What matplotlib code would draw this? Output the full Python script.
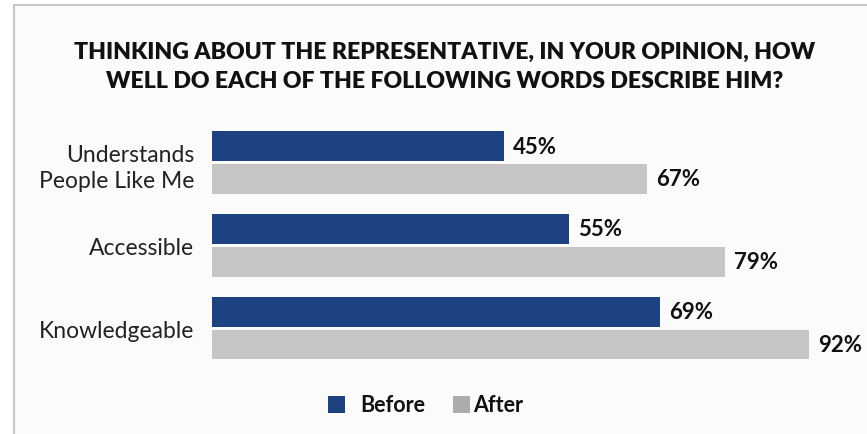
import matplotlib.pyplot as plt
from matplotlib.patches import Rectangle

plt.rcParams["font.family"] = ["Lato", "DejaVu Sans"]

categories = ["Understands\nPeople Like Me", "Accessible", "Knowledgeable"]
before = [45, 55, 69]
after = [67, 79, 92]
legend_labels = ["Before", "After"]

BLUE = "#1c4282"
GREY = "#c6c5c4"
GREY_LEG = "#acacac"
BG = "#fbfbfb"

W, H = 867, 435
fig = plt.figure(figsize=(W / 100, H / 100), dpi=100, facecolor="white")

# card background with light border (top and left visible)
fig.add_artist(Rectangle((14 / W, -0.1), 1.0, (H - 6) / H + 0.1, transform=fig.transFigure,
                         facecolor=BG, edgecolor="#c8c8c8", linewidth=1.5, zorder=0))

ax = fig.add_axes([212 / W, 1 - 370 / H, 649 / W, 250 / H])
ax.set_facecolor("none")

y = list(range(len(categories)))
h = 0.362
off = 0.199
ax.barh([v - off for v in y], before, height=h, color=BLUE)
ax.barh([v + off for v in y], after, height=h, color=GREY)

for i in y:
    ax.text(before[i] + 1.4, i - off, f"{before[i]}%", va="center", ha="left",
            fontsize=16, fontweight="bold", color="#111111")
    ax.text(after[i] + 1.4, i + off, f"{after[i]}%", va="center", ha="left",
            fontsize=16, fontweight="bold", color="#111111")

ax.set_xlim(0, 100)
ax.set_ylim(2.495, -0.526)
ax.set_yticks(y)
ax.set_yticklabels(categories, fontsize=16.5, color="#222222", linespacing=1.3)
ax.tick_params(axis="y", length=0, pad=13)
ax.set_xticks([])
for s in ax.spines.values():
    s.set_visible(False)

fig.text(445 / W, 1 - 67 / H,
         "THINKING ABOUT THE REPRESENTATIVE, IN YOUR OPINION, HOW\nWELL DO EACH OF THE FOLLOWING WORDS DESCRIBE HIM?",
         ha="center", va="center", fontsize=16.6, fontweight="heavy", color="#111111",
         linespacing=1.5)

# legend drawn as squares and labels
for col, lab, sx, tx in [(BLUE, legend_labels[0], 328, 360), (GREY_LEG, legend_labels[1], 453, 473)]:
    fig.add_artist(Rectangle((sx / W, 1 - 414 / H), 17 / W, 17 / H, transform=fig.transFigure,
                             facecolor=col, edgecolor="none"))
    fig.text(tx / W, 1 - 406 / H, lab, ha="left", va="center", fontsize=15.5,
             fontweight="bold", color="#111111")

fig.savefig("out.png", dpi=100, facecolor="white")
